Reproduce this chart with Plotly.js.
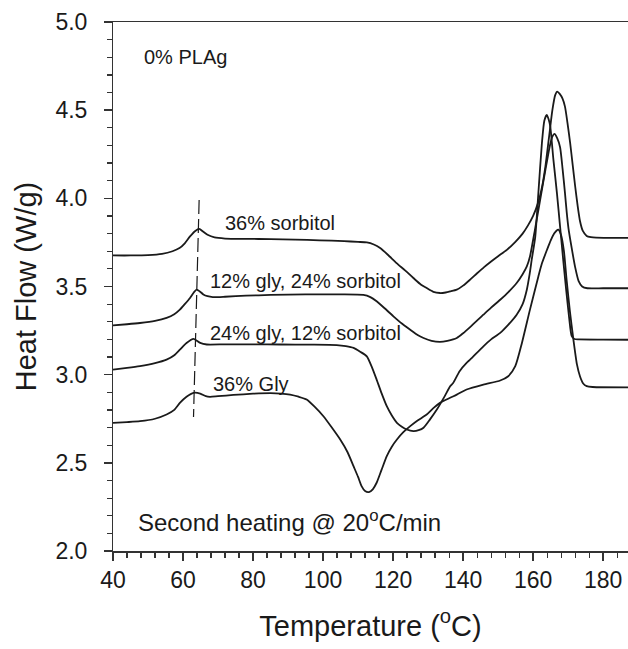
<!DOCTYPE html>
<html>
<head>
<meta charset="utf-8">
<script src="https://cdn.plot.ly/plotly-3.0.1.min.js"></script>
<style>html,body{margin:0;padding:0;background:#fff;}#chart{width:628px;height:649px;}</style>
</head>
<body>
<div id="chart"></div>
<script>
// ---- data ----
const sorb36X = [40,45,50,54,57,59,60.5,62,63.5,64.6,65.8,67,69,72,78,85,92,99,106,110,112.5,114.5,116.3,118.5,121,123.5,125.8,128,129.6,131.5,133.4,135,136.3,138.2,140,142,144,146,148,150,152.5,155,157,158.5,160,161.5,162.5,163.5,164.5,165.5,166.3,166.9,167.6,168.4,169.1,169.8,170.6,171.3,172,172.7,173.4,174.2,175.3,176.5,178,182,187.1];
const sorb36Y = [3.676,3.676,3.678,3.685,3.70,3.718,3.745,3.784,3.815,3.827,3.81,3.793,3.778,3.772,3.770,3.769,3.766,3.762,3.757,3.753,3.750,3.738,3.718,3.68,3.633,3.59,3.548,3.51,3.491,3.47,3.463,3.466,3.472,3.482,3.505,3.539,3.575,3.61,3.642,3.672,3.708,3.755,3.80,3.845,3.90,3.98,4.06,4.18,4.34,4.50,4.585,4.605,4.592,4.565,4.52,4.43,4.31,4.19,4.07,3.96,3.87,3.815,3.787,3.78,3.777,3.776,3.776];

const g12s24X = [40,44,47.7,52,55.3,57.5,59.1,60.5,62,63.2,63.9,64.8,65.8,67,68.5,72,78,85,95,105,111.5,113.5,115.3,117.5,120.1,122.5,124.9,127,128.7,131,133.4,135.5,138.2,140,142,145.8,148,150.6,153,155.3,157,158.2,159.1,160.5,162,163.5,164.8,165.5,166.1,166.9,167.7,168.4,169.1,169.6,170.1,171,172,173,174,175.5,180,187.1];
const g12s24Y = [3.28,3.286,3.293,3.305,3.322,3.343,3.369,3.40,3.435,3.47,3.482,3.472,3.455,3.445,3.44,3.442,3.448,3.452,3.455,3.455,3.452,3.44,3.416,3.378,3.331,3.29,3.255,3.225,3.208,3.192,3.186,3.192,3.208,3.235,3.27,3.34,3.38,3.425,3.47,3.52,3.57,3.614,3.67,3.82,3.99,4.16,4.30,4.35,4.365,4.34,4.29,4.17,4.03,3.92,3.83,3.72,3.61,3.53,3.50,3.49,3.49,3.49];

const g24s12X = [40,44,47.7,52,55.3,57.5,59.1,61,63,64.9,66.8,72,80,88,96,103.9,106.5,108.7,110.6,112.5,114,115.3,116.7,118.2,119.6,121.1,122.5,123.9,125.8,127.3,128.7,130.5,132.5,134.8,136.3,137.2,139,141,142,145.8,148,150.6,153,155.3,157,158.2,159,159.6,160.6,161.5,162.5,163.2,163.9,164.4,164.9,165.8,166.8,167.7,168.6,169.5,170.3,171,171.8,173,180,187.1];
const g24s12Y = [3.029,3.038,3.048,3.065,3.085,3.11,3.142,3.18,3.203,3.18,3.171,3.172,3.172,3.171,3.17,3.168,3.162,3.152,3.13,3.104,3.04,2.972,2.895,2.821,2.77,2.727,2.705,2.689,2.680,2.685,2.699,2.745,2.802,2.88,2.934,2.954,3.02,3.067,3.085,3.161,3.20,3.237,3.285,3.34,3.40,3.482,3.57,3.652,3.78,4.03,4.31,4.44,4.473,4.45,4.407,4.218,4.03,3.84,3.65,3.47,3.32,3.22,3.202,3.20,3.199,3.198];

const gly36X = [40,44,47.7,52,55.3,57.5,59.1,61,63,64.9,66.5,67.7,70,74.4,80,85,88,90.6,93,95.3,97.5,100.1,102.5,104.9,107,108.7,110,111,112,113.1,114.2,115.3,116.7,118.2,119.6,121.1,123,124.9,127,129.6,131.5,133.4,136.3,138.2,141,145.8,150.6,152.9,154.9,156.8,159.1,161.5,162.5,164,165,166,166.6,167.2,168,168.8,169.6,170.5,171.5,172.5,173.4,174.3,175.3,177,187.1];
const gly36Y = [2.727,2.731,2.736,2.75,2.774,2.80,2.84,2.875,2.897,2.893,2.878,2.874,2.878,2.885,2.892,2.895,2.893,2.887,2.875,2.859,2.82,2.764,2.70,2.632,2.56,2.481,2.42,2.368,2.34,2.334,2.35,2.387,2.46,2.538,2.59,2.632,2.675,2.708,2.74,2.774,2.81,2.84,2.869,2.887,2.916,2.944,2.967,2.991,3.048,3.18,3.369,3.557,3.63,3.71,3.76,3.80,3.815,3.822,3.79,3.70,3.53,3.36,3.20,3.06,2.99,2.95,2.935,2.93,2.928];

const guideX = [64.6, 63.0];
const guideY = [3.99, 2.76];

const seriesNames = ["36% sorbitol", "12% gly, 24% sorbitol", "24% gly, 12% sorbitol", "36% Gly"];
const xTickVals = [40,60,80,100,120,140,160,180];
const yTickVals = [2.0,2.5,3.0,3.5,4.0,4.5,5.0];

// ---- chart ----
const lineStyle = {color:'#1a1a1a', width:1.8, shape:'spline', smoothing:0.6};
const series = [[sorb36X,sorb36Y],[g12s24X,g12s24Y],[g24s12X,g24s12Y],[gly36X,gly36Y]];
const traces = series.map((s,i)=>({x:s[0], y:s[1], type:'scatter', mode:'lines', name:seriesNames[i], line:lineStyle, hoverinfo:'skip'}));
traces.push({x:guideX, y:guideY, type:'scatter', mode:'lines', line:{color:'#1a1a1a', width:1.2, dash:'14px,5px'}, hoverinfo:'skip'});

const font = {family:'"Liberation Sans", Arial, sans-serif', color:'#1a1a1a'};
const ann = (text,x,y,size)=>({text, x, y, xref:'x', yref:'y', xanchor:'left', yanchor:'middle', showarrow:false, font:Object.assign({}, font, {size})});

const layout = {
  width:628, height:649,
  margin:{l:113, r:0, t:22, b:98},
  paper_bgcolor:'#fff', plot_bgcolor:'#fff',
  showlegend:false,
  font:font,
  xaxis:{
    range:[40,187.1], tickvals:xTickVals, ticktext:xTickVals.map(String),
    showline:true, linecolor:'#333', linewidth:1.5, mirror:true,
    ticks:'outside', ticklen:8, tickwidth:1.5, tickcolor:'#333',
    minor:{dtick:4, tick0:40, ticks:'outside', ticklen:5, tickwidth:1.2, tickcolor:'#333', showgrid:false},
    showgrid:false, zeroline:false,
    tickfont:Object.assign({}, font, {size:23}),
    title:{text:'Temperature (<sup>o</sup>C)', font:Object.assign({}, font, {size:29}), standoff:23}
  },
  yaxis:{
    range:[2,5], tickvals:yTickVals, ticktext:yTickVals.map(v=>v.toFixed(1) + '\u2002'),
    showline:true, linecolor:'#333', linewidth:1.5,
    ticks:'outside', ticklen:8, tickwidth:1.5, tickcolor:'#333',
    minor:{dtick:0.1, tick0:2, ticks:'outside', ticklen:5, tickwidth:1.2, tickcolor:'#333', showgrid:false},
    showgrid:false, zeroline:false,
    tickfont:Object.assign({}, font, {size:23}),
    title:{text:'Heat Flow (W/g)', font:Object.assign({}, font, {size:29}), standoff:10}
  },
  annotations:[
    ann('0% PLAg', 48.3, 4.80, 20),
    ann('Second heating @ 20<sup>o</sup>C/min', 46.6, 2.17, 24),
    ann(seriesNames[0], 71.4, 3.861, 20),
    ann(seriesNames[1], 67.1, 3.529, 20),
    ann(seriesNames[2], 67.1, 3.234, 20),
    ann(seriesNames[3], 68.0, 2.949, 20)
  ]
};
Plotly.newPlot('chart', traces, layout, {displayModeBar:false, staticPlot:true});
</script>
</body>
</html>
